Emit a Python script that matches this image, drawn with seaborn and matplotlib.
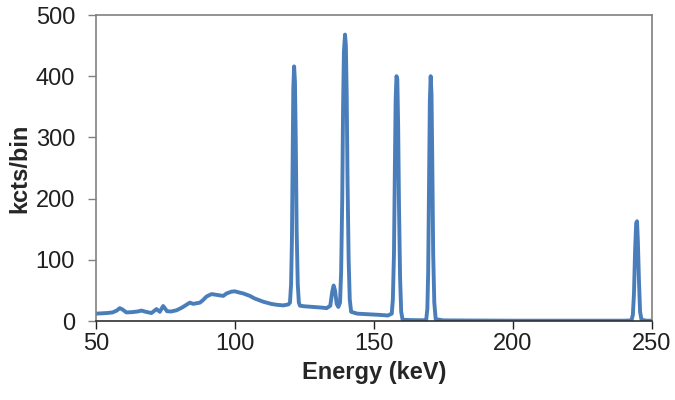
import pandas as pd
import matplotlib
matplotlib.use("Agg")
import matplotlib.pyplot as plt
import seaborn as sns

# spectrum (energy in keV, counts in kcts/bin)
energy = [50, 52, 54, 56, 57.5, 58.6, 59.5, 61, 63, 65, 66.4, 68, 70, 71.8, 73,
          74.2, 75.6, 77, 79, 81, 83.8, 85, 87.4, 88.5, 89.8, 91.6, 93, 95.8, 97,
          98.8, 100, 101.2, 103, 105.4, 107, 110.2, 113, 115, 117.4, 119.2,
          119.8, 120.2, 120.5, 120.8, 121.0, 121.3, 121.6, 121.9, 122.2, 122.6,
          123.0, 123.4,
          125, 128, 131, 133, 134.3, 135, 135.5, 136, 136.6, 137.2,
          137.8, 138.2, 138.6, 138.9, 139.2, 139.6, 139.9, 140.2, 140.5, 140.9,
          141.3, 141.8,
          144, 148, 152, 155, 156.4, 156.8, 157.2, 157.5, 157.8, 158.1, 158.4,
          158.7, 159.0, 159.4, 159.8, 160.3,
          163, 168, 168.8, 169.2, 169.5, 169.8, 170.1, 170.4, 170.7, 171.0,
          171.3, 171.7, 172.2,
          175, 200, 240, 242.6, 243.1, 243.5, 243.9, 244.3, 244.6, 244.9,
          245.3, 245.7, 246.2, 248, 250]
kcts = [12, 12.5, 13, 14, 17, 21, 19, 14, 14.5, 15.5, 17, 15, 13, 19.5, 15,
        24.5, 16, 15.5, 17.5, 22, 30, 28, 30, 34, 40, 44, 43, 41, 45,
        48, 48.5, 47, 45, 41, 37, 31.5, 28, 26.5, 25.5, 27,
        30, 60, 130, 280, 380, 416, 390, 290, 150, 60,
        30, 25,
        24, 23, 22, 21, 25, 48, 58, 50, 28, 23,
        30, 80, 200, 350, 440, 468, 450, 370, 230, 100,
        35, 15,
        12, 11, 10, 9, 12, 35, 110, 240, 360, 400, 395,
        320, 190, 70, 15, 2,
        1.5, 1.2, 2, 20, 80, 220, 360, 400, 370, 250,
        110, 30, 3,
        1, 0.5, 0.5, 1, 10, 45, 115, 160, 163, 130,
        65, 15, 2, 0.5, 0.5]

df = pd.DataFrame({"energy": energy, "kcts": kcts})

sns.set_style("white")
plt.rcParams["font.family"] = ["Liberation Sans", "DejaVu Sans"]

fig = plt.figure(figsize=(6.75, 4), dpi=100)
ax = fig.add_axes([0.142, 0.1975, 0.824, 0.765])

sns.lineplot(data=df, x="energy", y="kcts", ax=ax, color="#4A7EBB", linewidth=2.8)

ax.set_xlim(50, 250)
ax.set_ylim(0, 500)
ax.set_xticks([50, 100, 150, 200, 250])
ax.set_yticks([0, 100, 200, 300, 400, 500])

for side in ["left", "top", "right"]:
    ax.spines[side].set_color("#808080")
    ax.spines[side].set_linewidth(1.2)
ax.spines["bottom"].set_color("#303030")
ax.spines["bottom"].set_linewidth(1.2)

ax.tick_params(axis="both", which="major", labelsize=17, direction="out",
               length=6, width=1, colors="#202020", pad=3,
               bottom=True, left=True)
ax.tick_params(axis="y", color="#808080", pad=9)

ax.set_xlabel("Energy (keV)", fontsize=17, fontweight="bold", labelpad=4)
ax.set_ylabel("kcts/bin", fontsize=17, fontweight="bold", labelpad=3)

plt.savefig("out.png", dpi=100)
plt.close()
